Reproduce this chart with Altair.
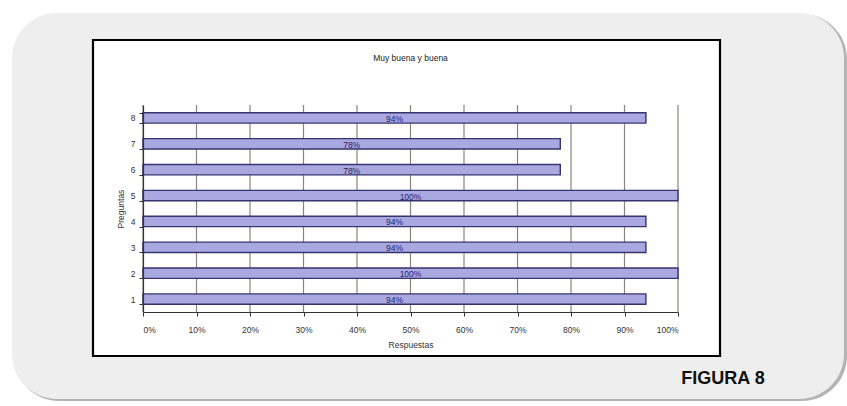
import altair as alt
import pandas as pd

preguntas = ["1", "2", "3", "4", "5", "6", "7", "8"]
valores = [0.94, 1.00, 0.94, 0.94, 1.00, 0.78, 0.78, 0.94]
etiquetas = ["94%", "100%", "94%", "94%", "100%", "78%", "78%", "94%"]
grid_vals = [0.0, 0.1, 0.2, 0.3, 0.4, 0.5, 0.6, 0.7, 0.8, 0.9, 1.0]
titulo = "Muy buena y buena"
figura_txt = "FIGURA 8"

df = pd.DataFrame({"Pregunta": preguntas, "Valor": valores, "Etiqueta": etiquetas})
df["Mitad"] = df["Valor"] / 2
grid_df = pd.DataFrame({"g": grid_vals})

FONT = "Liberation Sans, Arial, sans-serif"
PW, PH = 535, 207
one = alt.Data(values=[{"k": 1}])

x_scale = alt.Scale(domain=[0, 1], nice=False)
y_scale = alt.Scale(domain=preguntas[::-1], paddingInner=0.6, paddingOuter=0.3)

# decorative frame (shadow, grey rounded panel, white box with black border)
shadow = alt.Chart(one).mark_rect(cornerRadius=45, color="#b4b4b4").encode(
    x=alt.value(-129), x2=alt.value(704), y=alt.value(-91), y2=alt.value(296)
)
panel = alt.Chart(one).mark_rect(cornerRadius=45, color="#eeeeee").encode(
    x=alt.value(-131), x2=alt.value(701), y=alt.value(-92), y2=alt.value(294)
)
box = alt.Chart(one).mark_rect(color="white", stroke="black", strokeWidth=2.2).encode(
    x=alt.value(-50), x2=alt.value(577), y=alt.value(-65), y2=alt.value(251)
)

grid = alt.Chart(grid_df).mark_rule(color="#8c837c", strokeWidth=1.2).encode(
    x=alt.X("g:Q", scale=x_scale), y=alt.value(0), y2=alt.value(PH)
)

bars = alt.Chart(df).mark_bar(color="#aaa8e0", stroke="#34346e", strokeWidth=1.4).encode(
    x=alt.X("Valor:Q", scale=x_scale,
            axis=alt.Axis(format=".0%", values=grid_vals, title="Respuestas", grid=False,
                          tickSize=4, labelPadding=9, titlePadding=7, zindex=1)),
    y=alt.Y("Pregunta:N", scale=y_scale, sort=preguntas[::-1],
            axis=alt.Axis(title="Preguntas", tickBand="extent", tickSize=4, labelPadding=4,
                          titlePadding=5, labelAngle=0, zindex=1)),
)

text = alt.Chart(df).mark_text(font=FONT, fontSize=8.5, color="#24246e", dy=1).encode(
    x=alt.X("Mitad:Q", scale=x_scale),
    y=alt.Y("Pregunta:N", scale=y_scale, sort=preguntas[::-1]),
    text="Etiqueta:N",
)

title_mark = alt.Chart(one).mark_text(font=FONT, fontSize=8.5, color="#222222",
                                      text=titulo).encode(
    x=alt.value(PW / 2), y=alt.value(-47)
)

figura = alt.Chart(one).mark_text(font=FONT, fontSize=18, fontWeight="bold", color="#111111",
                                  text=figura_txt).encode(
    x=alt.value(580), y=alt.value(274)
)

chart = alt.layer(shadow, panel, box, grid, bars, text, title_mark, figura).properties(
    width=PW, height=PH,
    autosize=alt.AutoSizeParams(type="none"),
    padding={"left": 143, "top": 105, "right": 169, "bottom": 94},
    background="white",
).configure_view(stroke=None).configure_axis(
    domainColor="#333333", tickColor="#333333", labelFont=FONT, titleFont=FONT,
    labelFontSize=8.5, titleFontSize=8.5, labelColor="#333333", titleColor="#333333",
    titleFontWeight="normal", domainWidth=1.2
)

chart.save("out.html", embed_options={"renderer": "svg", "actions": False})
